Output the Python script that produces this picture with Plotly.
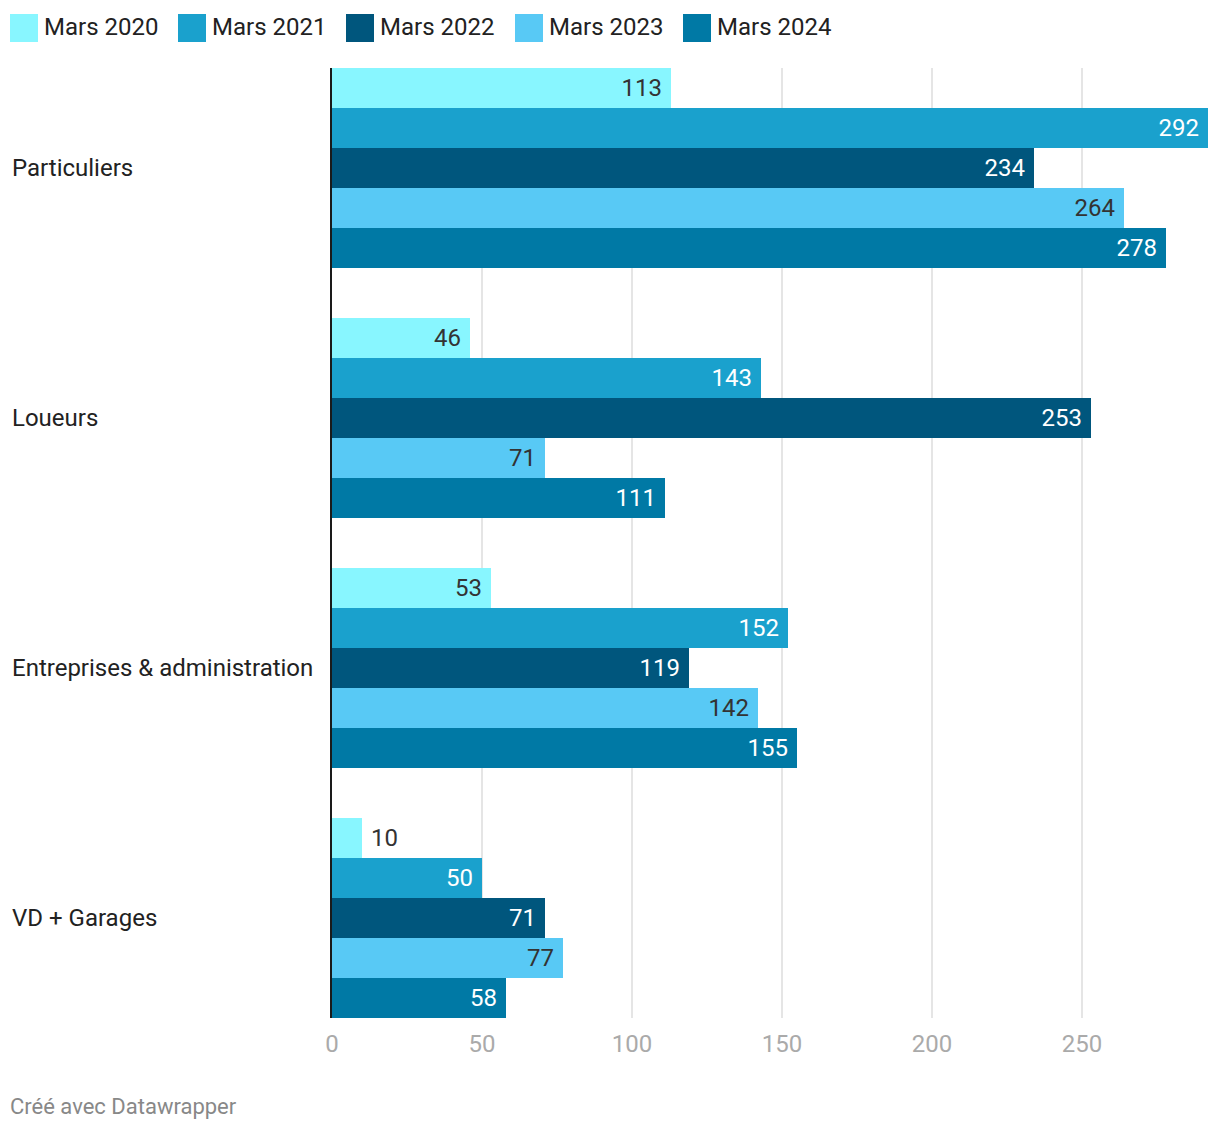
import plotly.graph_objects as go

categories = ["Particuliers", "Loueurs", "Entreprises & administration", "VD + Garages"]
series_names = ["Mars 2020", "Mars 2021", "Mars 2022", "Mars 2023", "Mars 2024"]
mars_2020 = [113, 46, 53, 10]
mars_2021 = [292, 143, 152, 50]
mars_2022 = [234, 253, 119, 71]
mars_2023 = [264, 71, 142, 77]
mars_2024 = [278, 111, 155, 58]
x_ticks = [0, 50, 100, 150, 200, 250]

values = [mars_2020, mars_2021, mars_2022, mars_2023, mars_2024]
colors = ["#88f6ff", "#1aa1cd", "#00567d", "#58c9f5", "#0079a5"]
label_colors = ["#333333", "#ffffff", "#ffffff", "#333333", "#ffffff"]

OFF = 8  # page body margin
W, H = 1220, 1132
L, R, T, B = 332 - OFF, 12 + OFF, 68 - OFF, 114 + OFF
pw, ph = W - L - R, H - T - B
FONT = "Roboto"
FS = 24

def px(x):
    return (x - OFF - L) / pw

def py(y):
    return (H - B - (y - OFF)) / ph

fig = go.Figure()
for name, vals, col, lc in zip(series_names, values, colors, label_colors):
    pos = ["outside" if v < 20 else "inside" for v in vals]
    txt = [("\u00a0" + str(v)) if v < 20 else (str(v) + "\u00a0") for v in vals]
    tcol = ["#333333" if v < 20 else lc for v in vals]
    fig.add_trace(go.Bar(
        y=categories, x=vals, name=name, orientation="h",
        marker=dict(color=col, line=dict(width=0)),
        text=txt, textposition=pos, insidetextanchor="end",
        textfont=dict(family=FONT, size=FS, color=tcol),
        cliponaxis=False, showlegend=False,
    ))

fig.update_layout(
    width=W, height=H,
    margin=dict(l=L, r=R, t=T, b=B),
    paper_bgcolor="white", plot_bgcolor="white",
    barmode="group", bargap=0.2, bargroupgap=0,
    uniformtext=dict(mode=False),
    font=dict(family=FONT, size=FS, color="#222"),
)
fig.update_traces(constraintext="none")
fig.update_xaxes(
    range=[0, 292], tickvals=x_ticks, showgrid=True, gridcolor="#e5e5e5", gridwidth=2,
    zeroline=False, showline=False, ticks="",
    tickfont=dict(family=FONT, size=FS, color="#aaaaaa"),
    ticklabelstandoff=9,
)
fig.update_yaxes(
    categoryorder="array", categoryarray=categories,
    range=[3.4, -0.4], showticklabels=False, showgrid=False, zeroline=False,
    showline=True, linecolor="#1a1a1a", linewidth=2, layer="above traces",
)

# category labels, left-aligned
for c in categories:
    fig.add_annotation(x=px(10), xref="paper", y=c, yref="y", text=c,
                       showarrow=False, xanchor="left", yanchor="middle",
                       font=dict(family=FONT, size=FS, color="#222"))

# custom legend
legend_x = [10, 178, 346, 515, 683]
for name, col, lx in zip(series_names, colors, legend_x):
    fig.add_shape(type="rect", xref="paper", yref="paper",
                  x0=px(lx), x1=px(lx + 28), y0=py(42), y1=py(14),
                  fillcolor=col, line=dict(width=0))
    fig.add_annotation(x=px(lx + 32), xref="paper", y=py(27), yref="paper",
                       text=name, showarrow=False, xanchor="left", yanchor="middle",
                       font=dict(family=FONT, size=FS, color="#222"))

fig.add_annotation(x=px(8), xref="paper", y=py(1106), yref="paper",
                   text="Créé avec Datawrapper", showarrow=False, xanchor="left", yanchor="middle",
                   font=dict(family=FONT, size=22, color="#888888"))

fig.write_html("out.html")
